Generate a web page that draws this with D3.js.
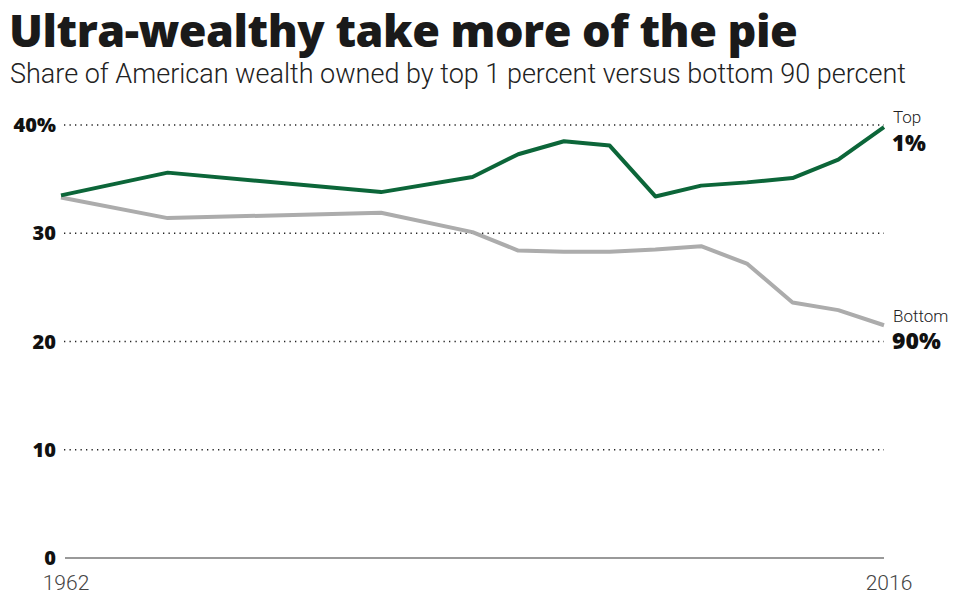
<html>
<head>
<script src="https://d3js.org/d3.v7.min.js"></script>
<style>
body { margin: 0; background: #fff; font-family: 'Roboto', 'Liberation Sans', sans-serif; }
svg { display: block; }
.grid line { stroke: #222; stroke-dasharray: 1.3,4.2; stroke-width: 1.3; }
.bold { font-family: 'Open Sans', 'Liberation Sans', sans-serif; font-weight: 800; }
</style>
</head>
<body>
<div id="chart"></div>
<script>

var years = [1962, 1969, 1983, 1989, 1992, 1995, 1998, 2001, 2004, 2007, 2010, 2013, 2016];
var top1 = [33.5, 35.6, 33.8, 35.2, 37.3, 38.5, 38.1, 33.4, 34.4, 34.7, 35.1, 36.8, 39.8];
var bottom90 = [33.3, 31.4, 31.9, 30.1, 28.4, 28.3, 28.3, 28.5, 28.8, 27.2, 23.6, 22.9, 21.5];
var yTicks = [0, 10, 20, 30, 40];
var xTicks = [1962, 2016];

var width = 958, height = 596;

var svg = d3.select("#chart").append("svg")
  .attr("width", width).attr("height", height);

var xScale = d3.scaleLinear().domain([1962, 2016]).range([61, 884]);
var yScale = d3.scaleLinear().domain([0, 40]).range([558, 125]);

// title + subtitle, sized to the reference widths
function fitText(sel, target) {
  var w = sel.node().getComputedTextLength();
  var fs = parseFloat(sel.attr("font-size"));
  sel.attr("font-size", fs * target / w);
}

var title = svg.append("text")
  .attr("class", "bold")
  .attr("x", 9).attr("y", 47)
  .attr("font-size", 46)
  .style("letter-spacing", "-0.5px")
  .attr("fill", "#1a1a1a")
  .text("Ultra-wealthy take more of the pie");
fitText(title, 789);

var sub = svg.append("text")
  .attr("x", 10).attr("y", 83)
  .attr("font-size", 24).attr("font-weight", 300)
  .attr("fill", "#222")
  .text("Share of American wealth owned by top 1 percent versus bottom 90 percent");
fitText(sub, 896);

// gridlines
var grid = svg.append("g").attr("class", "grid");
grid.selectAll("line").data(yTicks.filter(function(d) { return d > 0; }))
  .enter().append("line")
  .attr("x1", 64).attr("x2", 884)
  .attr("y1", function(d) { return yScale(d); })
  .attr("y2", function(d) { return yScale(d); });

svg.append("line")
  .attr("x1", 65).attr("x2", 884)
  .attr("y1", yScale(0)).attr("y2", yScale(0))
  .attr("stroke", "#777").attr("stroke-width", 1.5);

svg.selectAll("text.ytick").data(yTicks).enter().append("text")
  .attr("class", "ytick bold")
  .attr("x", 56)
  .attr("y", function(d) { return yScale(d) + 7; })
  .attr("text-anchor", "end")
  .attr("font-size", 20)
  .attr("fill", "#111")
  .text(function(d) { return d === 40 ? d + "%" : d; });

svg.selectAll("text.xtick").data(xTicks).enter().append("text")
  .attr("class", "xtick")
  .attr("x", function(d) { return xScale(d) + 5; })
  .attr("y", 590)
  .attr("text-anchor", "middle")
  .attr("font-size", 21).attr("font-weight", 300)
  .attr("fill", "#444")
  .text(function(d) { return d; });

var line = d3.line()
  .x(function(d, i) { return xScale(years[i]); })
  .y(function(d) { return yScale(d); });

svg.append("path").datum(bottom90)
  .attr("d", line)
  .attr("fill", "none")
  .attr("stroke", "#acacac")
  .attr("stroke-width", 4)
  .attr("stroke-linejoin", "round");

svg.append("path").datum(top1)
  .attr("d", line)
  .attr("fill", "none")
  .attr("stroke", "#0c6639")
  .attr("stroke-width", 4)
  .attr("stroke-linejoin", "round");

// series labels
svg.append("text").attr("x", 893).attr("y", 123)
  .attr("font-size", 17).attr("font-weight", 300).attr("fill", "#222")
  .text("Top");
svg.append("text").attr("class", "bold").attr("x", 892).attr("y", 151)
  .attr("font-size", 22).attr("fill", "#111")
  .text("1%");
svg.append("text").attr("x", 893).attr("y", 322)
  .attr("font-size", 17).attr("font-weight", 300).attr("fill", "#222")
  .text("Bottom");
svg.append("text").attr("class", "bold").attr("x", 892).attr("y", 349)
  .attr("font-size", 23).attr("fill", "#111")
  .text("90%");

</script>
</body>
</html>
